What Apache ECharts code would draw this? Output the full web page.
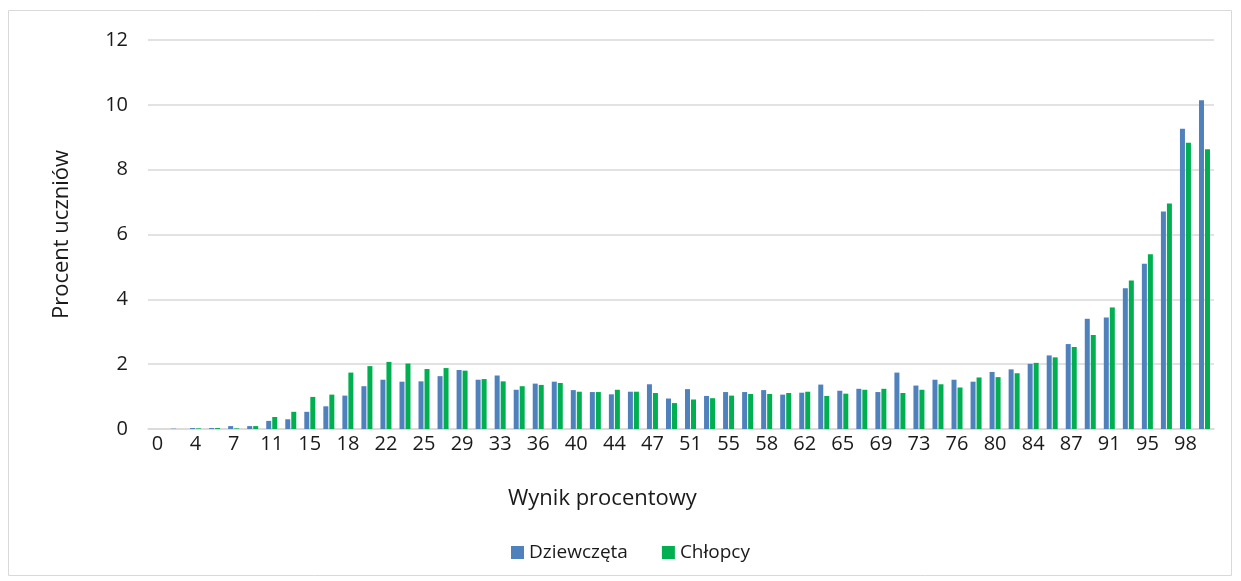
<!DOCTYPE html>
<html>
<head>
<meta charset="utf-8">
<script src="https://cdn.jsdelivr.net/npm/echarts@6/dist/echarts.min.js"></script>
<style>
  html, body { margin: 0; padding: 0; background: #fff; }
  #chart { width: 1241px; height: 581px; }
</style>
</head>
<body>
<div id="chart"></div>
<script>
// wynik procentowy (kategorie osi X)
var categories = ["0", "2", "4", "5", "7", "9", "11", "13", "15", "16", "18", "20", "22", "24",
  "25", "27", "29", "31", "33", "35", "36", "38", "40", "42", "44", "45", "47", "49",
  "51", "53", "55", "56", "58", "60", "62", "64", "65", "67", "69", "71", "73", "75",
  "76", "78", "80", "82", "84", "85", "87", "89", "91", "93", "95", "96", "98", "100"];

var girls = [0, 0.01, 0.03, 0.03, 0.09, 0.09, 0.25, 0.30, 0.53, 0.70, 1.03, 1.32, 1.52, 1.46,
  1.47, 1.63, 1.82, 1.52, 1.65, 1.21, 1.40, 1.46, 1.20, 1.14, 1.07, 1.15, 1.38, 0.94,
  1.23, 1.02, 1.14, 1.14, 1.20, 1.06, 1.12, 1.37, 1.18, 1.24, 1.14, 1.74, 1.34, 1.52,
  1.52, 1.46, 1.76, 1.84, 2.01, 2.27, 2.62, 3.40, 3.44, 4.34, 5.10, 6.71, 9.26, 10.14];

var boys = [0, 0, 0.02, 0.03, 0.02, 0.09, 0.37, 0.53, 0.99, 1.06, 1.74, 1.94, 2.07, 2.02,
  1.85, 1.88, 1.80, 1.54, 1.47, 1.32, 1.36, 1.42, 1.15, 1.14, 1.21, 1.15, 1.11, 0.80,
  0.91, 0.95, 1.03, 1.08, 1.08, 1.11, 1.15, 1.02, 1.09, 1.21, 1.24, 1.11, 1.21, 1.38,
  1.28, 1.59, 1.60, 1.72, 2.04, 2.21, 2.53, 2.90, 3.75, 4.58, 5.39, 6.96, 8.83, 8.63];

var font = "'Open Sans', sans-serif";
var gridColor = "#d9d9d9";

var myChart = echarts.init(document.getElementById("chart"));
myChart.setOption({
  animation: false,
  textStyle: { fontFamily: font, color: "#1a1a1a" },
  grid: { left: 148, right: 27, top: 40, bottom: 152 },
  graphic: [
    {
      type: "rect",
      shape: { x: 8.5, y: 10.5, width: 1223, height: 565 },
      style: { fill: "none", stroke: gridColor, lineWidth: 1 },
      silent: true
    },
    {
      type: "text",
      left: 508,
      top: 488,
      style: { text: "Wynik procentowy", fontSize: 22, fontFamily: font, fill: "#1a1a1a" }
    }
  ],
  legend: {
    left: 506,
    top: 538,
    itemWidth: 13,
    itemHeight: 13,
    itemGap: 34,
    icon: "rect",
    textStyle: { fontSize: 19, fontFamily: font, color: "#1a1a1a" },
    data: ["Dziewczęta", "Chłopcy"]
  },
  xAxis: {
    type: "category",
    data: categories,
    axisTick: { show: false },
    axisLine: { lineStyle: { color: gridColor, width: 1.5 } },
    axisLabel: { interval: 1, fontSize: 20, color: "#1a1a1a", margin: 5 }
  },
  yAxis: {
    type: "value",
    min: 0,
    max: 12,
    interval: 2,
    name: "Procent uczniów",
    nameLocation: "middle",
    nameGap: 75,
    nameRotate: 90,
    nameTextStyle: { fontSize: 22, color: "#1a1a1a" },
    axisLine: { show: false },
    axisTick: { show: false },
    axisLabel: { fontSize: 20, color: "#1a1a1a", margin: 20 },
    splitLine: { lineStyle: { color: gridColor, width: 1.5 } }
  },
  series: [
    {
      name: "Dziewczęta",
      type: "bar",
      data: girls,
      barWidth: 5,
      barGap: "20%",
      itemStyle: { color: "#4f81bd" }
    },
    {
      name: "Chłopcy",
      type: "bar",
      data: boys,
      barWidth: 5,
      itemStyle: { color: "#00b050" }
    }
  ]
});
window.onresize = function () {
  myChart.resize();
};
</script>
</body>
</html>
